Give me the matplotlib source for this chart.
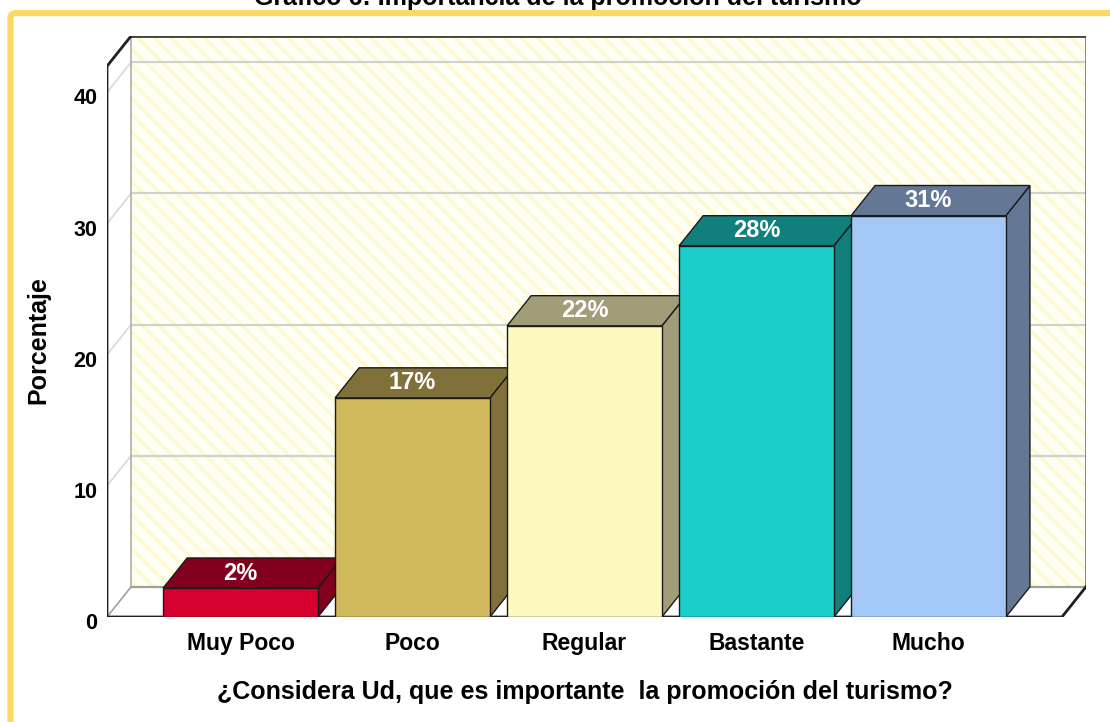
import matplotlib
matplotlib.use('Agg')
import matplotlib.pyplot as plt
from matplotlib.patches import Polygon, Rectangle, FancyBboxPatch
from matplotlib.transforms import ScaledTranslation

# data
categorias = ['Muy Poco', 'Poco', 'Regular', 'Bastante', 'Mucho']
porcentaje = [2.2, 16.7, 22.2, 28.3, 30.6]
etiquetas = ['2%', '17%', '22%', '28%', '31%']
yticks = [0, 10, 20, 30, 40]

col_frente = ['#D6002E', '#D0B85C', '#FEF9BE', '#1CCFCB', '#A3C8F5']
col_oscuro = ['#82001E', '#80703A', '#A09D78', '#117F7B', '#647896']

titulo = 'Gráfico 6: Importancia de la promoción del turismo'
xlab = '¿Considera Ud, que es importante  la promoción del turismo?'
ylab = 'Porcentaje'

plt.rcParams['font.family'] = ['Liberation Sans', 'DejaVu Sans']
plt.rcParams['hatch.linewidth'] = 2.6

# 3d depth (category units, percent units)
ddx, ddy = 0.14, 2.3
hw = 0.45
x0, x1 = -0.776, 4.776
ymax = 42

fig = plt.figure(figsize=(11.10, 7.22), dpi=100)
ax = fig.add_axes([107/1110, 105/722, 979/1110, 581/722])
ax.set_xlim(x0, x1 + ddx)
ax.set_ylim(0, ymax + ddy)
for s in ax.spines.values():
    s.set_visible(False)
ax.patch.set_alpha(0)

# back wall
pared = [(x0+ddx, ddy), (x1+ddx, ddy), (x1+ddx, ymax+ddy), (x0+ddx, ymax+ddy)]
ax.add_patch(Polygon(pared, closed=True, facecolor='#FFFFF5', edgecolor='#FFF9D2',
                     hatch='\\\\', linewidth=0, zorder=1))
# side wall + floor
lado = [(x0, 0), (x0, ymax), (x0+ddx, ymax+ddy), (x0+ddx, ddy)]
ax.add_patch(Polygon(lado, closed=True, facecolor='white', edgecolor='none', zorder=1))
piso = [(x0, 0), (x1, 0), (x1+ddx, ddy), (x0+ddx, ddy)]
ax.add_patch(Polygon(piso, closed=True, facecolor='white', edgecolor='none', zorder=1))

# grid
for v in yticks[1:]:
    ax.plot([x0+ddx, x1+ddx], [v+ddy, v+ddy], color='#D2D2CC', lw=1.6, zorder=2)
    ax.plot([x0, x0+ddx], [v, v+ddy], color='#D8D8D8', lw=1.2, zorder=2)

# frame lines
ax.plot([x0+ddx, x1+ddx], [ddy, ddy], color='#A0A098', lw=1.6, zorder=2)
ax.plot([x0+ddx, x0+ddx], [ddy, ymax+ddy], color='#B0B0A8', lw=1.2, zorder=2)
ax.plot([x0, x0+ddx], [0, ddy], color='#A0A0A0', lw=1.2, zorder=2)
ax.plot([x1+ddx, x1+ddx], [ddy, ymax+ddy], color='#808078', lw=2.0, zorder=2)
ax.plot([x0+ddx, x1+ddx], [ymax+ddy, ymax+ddy], color='#404040', lw=2.0, zorder=2)
ax.plot([x0, x0, x0+ddx], [0, ymax, ymax+ddy], color='#202020', lw=2.0, zorder=2,
        solid_joinstyle='miter')
ax.plot([x0, x1, x1+ddx], [0, 0, ddy], color='#202020', lw=2.0, zorder=2,
        solid_joinstyle='miter')

# bars
for i, v in enumerate(porcentaje):
    l, r = i - hw, i + hw
    z = 3 + i
    ax.add_patch(Polygon([(r, 0), (r+ddx, ddy), (r+ddx, v+ddy), (r, v)], closed=True,
                         facecolor=col_oscuro[i], edgecolor='#1A1A1A', lw=1.0, zorder=z))
    ax.add_patch(Polygon([(l, v), (r, v), (r+ddx, v+ddy), (l+ddx, v+ddy)], closed=True,
                         facecolor=col_oscuro[i], edgecolor='#1A1A1A', lw=1.0, zorder=z))
    ax.add_patch(Rectangle((l, 0), 2*hw, v, facecolor=col_frente[i],
                           edgecolor='#1A1A1A', lw=1.0, zorder=z))
    ax.text(i, v + ddy/2, etiquetas[i], ha='center', va='center', color='white',
            fontsize=17, fontweight='bold', zorder=10)

ax.set_yticks(yticks)
ax.set_yticklabels([str(t) for t in yticks], fontsize=15.5, fontweight='bold')
ax.tick_params(axis='y', length=0, pad=7)
off = ScaledTranslation(0, -4/100, fig.dpi_scale_trans)
for t in ax.get_yticklabels():
    t.set_transform(t.get_transform() + off)
ax.set_xticks(range(len(categorias)))
ax.set_xticklabels(categorias, fontsize=16.5, fontweight='bold')
ax.tick_params(axis='x', length=0, pad=11)

fig.text(38/1110, 1 - 340/722, ylab, rotation=90, ha='center', va='center',
         fontsize=18, fontweight='bold')
fig.text(585/1110, 1 - 692/722, xlab, ha='center', va='center',
         fontsize=18, fontweight='bold')
fig.text(558/1110, 1 - 5/722, titulo, ha='center', va='baseline',
         fontsize=18, fontweight='bold')

# yellow frame of the document
marco = FancyBboxPatch((10.5/1110, -0.2), 1.2, 1.2 - 13/722,
                       boxstyle='round,pad=0,rounding_size=0.006',
                       transform=fig.transFigure, facecolor='none',
                       edgecolor='#FFD966', lw=4.5)
fig.patches.append(marco)

fig.savefig('out.png', dpi=100)
